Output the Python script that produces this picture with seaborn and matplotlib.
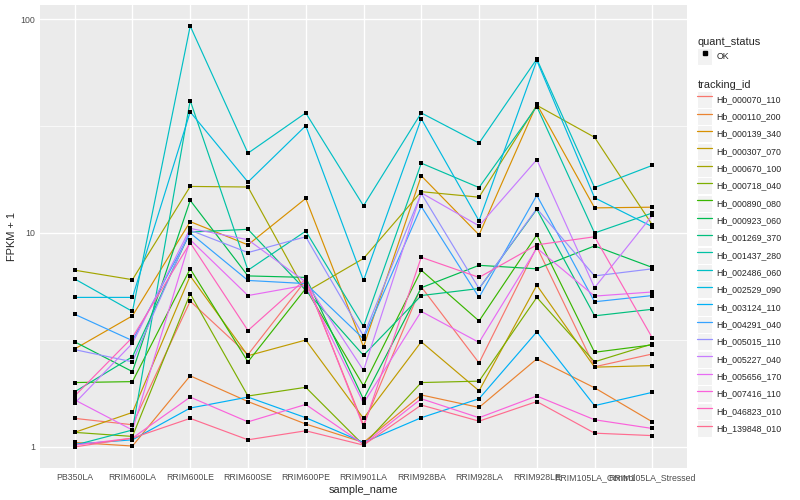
import matplotlib
matplotlib.use('Agg')
import matplotlib.pyplot as plt
from matplotlib.legend_handler import HandlerLine2D
from matplotlib.lines import Line2D
from matplotlib.patches import Rectangle
from matplotlib.ticker import FixedLocator, NullFormatter
import seaborn as sns
import pandas as pd
import numpy as np

# data (FPKM + 1)
samples = ['PB350LA', 'RRIM600LA', 'RRIM600LE', 'RRIM600SE', 'RRIM600PE', 'RRIM901LA',
           'RRIM928BA', 'RRIM928LA', 'RRIM928LE', 'RRIM105LA_Control', 'RRIM105LA_Stressed']

hb_000070_110 = [1.36, 1.27, 4.8, 2.7, 6.0, 1.27, 5.6, 2.47, 8.6, 2.37, 2.72]
hb_000110_200 = [1.05, 1.01, 2.15, 1.63, 1.28, 1.05, 1.75, 1.53, 2.58, 1.89, 1.31]
hb_000139_340 = [2.87, 4.1, 11.3, 8.8, 14.5, 2.94, 18.5, 9.8, 40.0, 13.1, 13.2]
hb_000307_070 = [1.17, 1.45, 6.3, 2.67, 3.16, 1.36, 3.1, 1.83, 5.7, 2.36, 2.4]
hb_000670_100 = [6.7, 6.05, 16.5, 16.4, 5.3, 7.6, 15.6, 14.7, 39.5, 28.0, 10.9]
hb_000718_040 = [1.17, 1.12, 5.2, 1.73, 1.9, 1.02, 2.0, 2.03, 5.0, 2.5, 3.03]
hb_000890_080 = [2.0, 2.02, 6.8, 2.5, 5.5, 1.93, 6.7, 3.88, 9.8, 2.77, 3.0]
hb_000923_060 = [3.1, 2.25, 14.2, 6.3, 6.2, 1.67, 5.55, 7.06, 6.8, 8.7, 6.9]
hb_001269_370 = [1.81, 2.64, 10.1, 10.4, 5.4, 2.68, 5.1, 5.5, 12.9, 4.1, 4.4]
hb_001437_280 = [1.02, 1.2, 41.6, 6.7, 10.2, 3.66, 21.2, 16.3, 39.0, 10.0, 12.4]
hb_002486_060 = [6.1, 4.3, 92.7, 23.6, 36.4, 13.4, 36.4, 26.3, 65.0, 16.3, 20.7]
hb_002529_090 = [5.0, 5.0, 36.8, 17.3, 31.7, 6.0, 34.2, 11.4, 64.0, 14.6, 10.7]
hb_003124_110 = [1.03, 1.08, 1.52, 1.71, 1.37, 1.05, 1.37, 1.68, 3.45, 1.56, 1.8]
hb_004291_040 = [4.17, 3.14, 10.0, 6.0, 5.8, 3.2, 13.3, 5.0, 15.0, 4.77, 5.1]
hb_005015_110 = [2.85, 2.5, 10.3, 8.1, 9.6, 3.3, 15.3, 5.5, 13.0, 6.3, 6.8]
hb_005227_040 = [1.6, 3.05, 10.5, 9.3, 5.9, 2.28, 15.4, 10.8, 22.0, 5.55, 12.1]
hb_005656_170 = [1.66, 1.2, 9.3, 5.1, 5.7, 1.6, 4.3, 3.08, 8.5, 5.07, 5.3]
hb_007416_110 = [1.02, 1.1, 1.71, 1.31, 1.58, 1.03, 1.68, 1.37, 1.73, 1.34, 1.22]
hb_046823_010 = [1.73, 3.25, 9.0, 3.5, 6.1, 1.24, 7.7, 6.2, 8.8, 9.6, 3.23]
hb_139848_010 = [1.0, 1.1, 1.36, 1.08, 1.19, 1.02, 1.57, 1.32, 1.63, 1.16, 1.13]

tracking_ids = ['Hb_000070_110', 'Hb_000110_200', 'Hb_000139_340', 'Hb_000307_070',
                'Hb_000670_100', 'Hb_000718_040', 'Hb_000890_080', 'Hb_000923_060',
                'Hb_001269_370', 'Hb_001437_280', 'Hb_002486_060', 'Hb_002529_090',
                'Hb_003124_110', 'Hb_004291_040', 'Hb_005015_110', 'Hb_005227_040',
                'Hb_005656_170', 'Hb_007416_110', 'Hb_046823_010', 'Hb_139848_010']
series = [hb_000070_110, hb_000110_200, hb_000139_340, hb_000307_070, hb_000670_100,
          hb_000718_040, hb_000890_080, hb_000923_060, hb_001269_370, hb_001437_280,
          hb_002486_060, hb_002529_090, hb_003124_110, hb_004291_040, hb_005015_110,
          hb_005227_040, hb_005656_170, hb_007416_110, hb_046823_010, hb_139848_010]

# ggplot default hue palette for 20 levels
colors = ['#F8766D', '#EA8331', '#D89000', '#C09B00', '#A3A500', '#7CAE00', '#39B600',
          '#00BB4E', '#00BF7D', '#00C1A3', '#00BFC4', '#00BAE0', '#00B0F6', '#35A2FF',
          '#9590FF', '#C77CFF', '#E76BF3', '#FA62DB', '#FF62BC', '#FF6C90']

rows = []
for tid, vals in zip(tracking_ids, series):
    for s, v in zip(samples, vals):
        rows.append({'tracking_id': tid, 'sample_name': s, 'fpkm': v, 'quant_status': 'OK'})
df = pd.DataFrame(rows)

sns.set_style('darkgrid', {'axes.facecolor': '#EBEBEB', 'grid.color': 'white'})
plt.rcParams['font.family'] = ['Liberation Sans', 'DejaVu Sans']

fig, ax = plt.subplots(figsize=(8, 5), dpi=100)
fig.subplots_adjust(left=40 / 800, right=687 / 800, bottom=1 - 468 / 500, top=1 - 5 / 500)

sns.lineplot(data=df, x='sample_name', y='fpkm', hue='tracking_id', hue_order=tracking_ids,
             palette=colors, sort=False, errorbar=None, linewidth=0.85, legend=False, ax=ax)
sns.scatterplot(data=df, x='sample_name', y='fpkm', color='black', marker='s', s=8,
                linewidth=0, legend=False, ax=ax, zorder=3)

# log scale with ggplot style 5% padding
ax.set_yscale('log')
lo, hi = np.log10(df['fpkm'].min()), np.log10(df['fpkm'].max())
pad = (hi - lo) * 0.05
ax.set_ylim(10 ** (lo - pad), 10 ** (hi + pad))
ax.set_xlim(-0.6, len(samples) - 0.4)
ax.yaxis.set_major_locator(FixedLocator([1, 10, 100]))
ax.set_yticklabels(['1', '10', '100'])
ax.yaxis.set_minor_locator(FixedLocator([10 ** 0.5, 10 ** 1.5]))
ax.yaxis.set_minor_formatter(NullFormatter())
ax.grid(which='major', color='white', linewidth=1.0)
ax.grid(which='minor', axis='y', color='white', linewidth=0.5)
ax.set_axisbelow(True)
for sp in ax.spines.values():
    sp.set_visible(False)

ax.tick_params(axis='both', which='major', length=2, width=0.5, color='#333333',
               labelsize=6.3, labelcolor='#4D4D4D', pad=1.6)
ax.tick_params(axis='y', which='minor', length=0)
ax.set_xlabel('sample_name', fontsize=7.9, labelpad=2)
ax.set_ylabel('FPKM + 1', fontsize=7.9, labelpad=2)


class KeyHandler(HandlerLine2D):
    def create_artists(self, legend, orig_handle, xdescent, ydescent, width, height, fontsize, trans):
        box = Rectangle((-xdescent, -ydescent), width, height, facecolor='#F2F2F2',
                        edgecolor='white', linewidth=0.8, transform=trans)
        arts = super().create_artists(legend, orig_handle, xdescent, ydescent, width, height,
                                      fontsize, trans)
        return [box] + list(arts)


legend_kw = dict(loc='upper left', bbox_transform=fig.transFigure, frameon=False,
                 fontsize=6.3, title_fontsize=7.9, alignment='left', borderpad=0,
                 handlelength=1.71, handleheight=2.61, labelspacing=0.04, handletextpad=0.46)

ok_handle = [Line2D([], [], color='black', marker='s', markersize=2.8, linestyle='none')]
leg1 = ax.legend(ok_handle, ['OK'], title='quant_status', bbox_to_anchor=(693 / 800, 1 - 33 / 500),
                 handler_map={Line2D: KeyHandler(marker_pad=0)}, **legend_kw)
ax.add_artist(leg1)

id_handles = [Line2D([], [], color=c, linewidth=0.9) for c in colors]
ax.legend(id_handles, tracking_ids, title='tracking_id', bbox_to_anchor=(693 / 800, 1 - 76 / 500),
          handler_map={Line2D: KeyHandler(marker_pad=0)}, **legend_kw)

plt.savefig('out.png', dpi=100)
